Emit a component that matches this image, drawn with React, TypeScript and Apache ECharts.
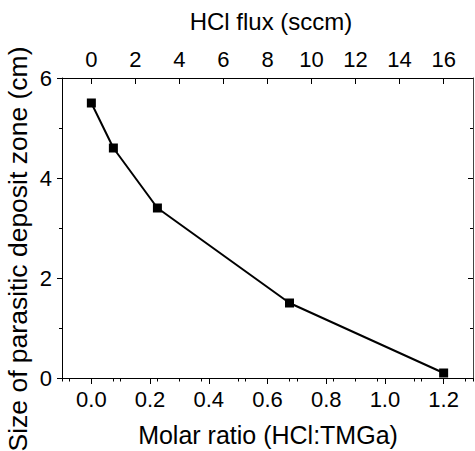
import React, { useEffect, useRef } from "react";
import * as echarts from "echarts";

// Data
const molarRatio = [0, 0.075, 0.225, 0.675, 1.2];
const depositSize = [5.5, 4.6, 3.4, 1.5, 0.1];

// Tick values
const ratioMajor = [0, 0.2, 0.4, 0.6, 0.8, 1.0, 1.2];
const ratioMinor = [-0.1, 0.1, 0.3, 0.5, 0.7, 0.9, 1.1, 1.3];
const fluxMajor = [0, 2, 4, 6, 8, 10, 12, 14, 16];
const fluxMinor = [-1, 1, 3, 5, 7, 9, 11, 13, 15, 17];

// Titles
const xTitle = "Molar ratio (HCl:TMGa)";
const topTitle = "HCl flux (sccm)";
const yTitle = "Size of parasitic deposit zone (cm)";

const FONT = "Liberation Sans, Arial, sans-serif";
const tickLabel = { fontSize: 22, fontFamily: FONT, color: "#000" };
const black = { color: "#000", width: 1 };

export default function App() {
  const ref = useRef<HTMLDivElement>(null);
  useEffect(() => {
    if (!ref.current) return;
    const chart = echarts.init(ref.current, undefined, { renderer: "svg" });
    const xMin = -0.1;
    const xMax = 1.3;
    const fMin = -4 / 3;
    const fMax = 52 / 3;
    chart.setOption({
      animation: false,
      backgroundColor: "#fff",
      grid: { left: 62, top: 78, right: 2, bottom: 73, containLabel: false },
      graphic: [
        {
          type: "text",
          x: 268,
          y: 435,
          style: { text: xTitle, fontSize: 25, fontFamily: FONT, fill: "#000", align: "center", verticalAlign: "middle" },
        },
        {
          type: "text",
          x: 271,
          y: 21,
          style: { text: topTitle, fontSize: 24, fontFamily: FONT, fill: "#000", align: "center", verticalAlign: "middle" },
        },
        {
          type: "text",
          x: 17.5,
          y: 249,
          rotation: Math.PI / 2,
          style: { text: yTitle, fontSize: 26.5, fontFamily: FONT, fill: "#000", align: "center", verticalAlign: "middle" },
        },
      ],
      xAxis: [
        {
          type: "value",
          position: "bottom",
          min: xMin,
          max: xMax,
          axisLine: { show: true, onZero: false, lineStyle: black },
          axisTick: { show: true, inside: false, length: 6, lineStyle: black, customValues: ratioMajor },
          axisLabel: {
            show: true,
            margin: 10,
            ...tickLabel,
            customValues: ratioMajor,
            formatter: (v: number) => v.toFixed(1),
          },
          splitLine: { show: false },
        },
        {
          type: "value",
          position: "bottom",
          min: xMin,
          max: xMax,
          axisLine: { show: false },
          axisTick: { show: true, inside: false, length: 3.5, lineStyle: black, customValues: ratioMinor },
          axisLabel: { show: false },
          splitLine: { show: false },
        },
        {
          type: "value",
          position: "top",
          min: fMin,
          max: fMax,
          axisLine: { show: true, onZero: false, lineStyle: black },
          axisTick: { show: true, inside: true, length: 6, lineStyle: black, customValues: fluxMajor },
          axisLabel: { show: true, margin: 8, ...tickLabel, customValues: fluxMajor },
          splitLine: { show: false },
        },
        {
          type: "value",
          position: "top",
          min: fMin,
          max: fMax,
          axisLine: { show: false },
          axisTick: { show: true, inside: true, length: 3.5, lineStyle: black, customValues: fluxMinor },
          axisLabel: { show: false },
          splitLine: { show: false },
        },
      ],
      yAxis: [
        {
          type: "value",
          position: "left",
          min: 0,
          max: 6,
          interval: 2,
          axisLine: { show: true, onZero: false, lineStyle: black },
          axisTick: { show: true, inside: false, length: 5, lineStyle: black },
          minorTick: { show: true, splitNumber: 2, length: 3, lineStyle: black },
          axisLabel: { show: true, margin: 10, ...tickLabel },
          splitLine: { show: false },
          minorSplitLine: { show: false },
        },
        {
          type: "value",
          position: "right",
          min: 0,
          max: 6,
          interval: 2,
          axisLine: { show: true, onZero: false, lineStyle: { color: "#444", width: 1 } },
          axisTick: { show: true, inside: true, length: 5, lineStyle: black },
          minorTick: { show: true, splitNumber: 2, length: 3, lineStyle: black },
          axisLabel: { show: false },
          splitLine: { show: false },
          minorSplitLine: { show: false },
        },
      ],
      series: [
        {
          type: "line",
          xAxisIndex: 0,
          yAxisIndex: 0,
          data: molarRatio.map((x, i) => [x, depositSize[i]]),
          symbol: "rect",
          symbolSize: 9,
          itemStyle: { color: "#000" },
          lineStyle: { color: "#000", width: 2 },
          clip: false,
        },
      ],
    });
    return () => chart.dispose();
  }, []);
  return (
    <div
      ref={ref}
      style={{ position: "fixed", left: 0, top: 0, width: 475, height: 451, background: "#fff" }}
    />
  );
}
